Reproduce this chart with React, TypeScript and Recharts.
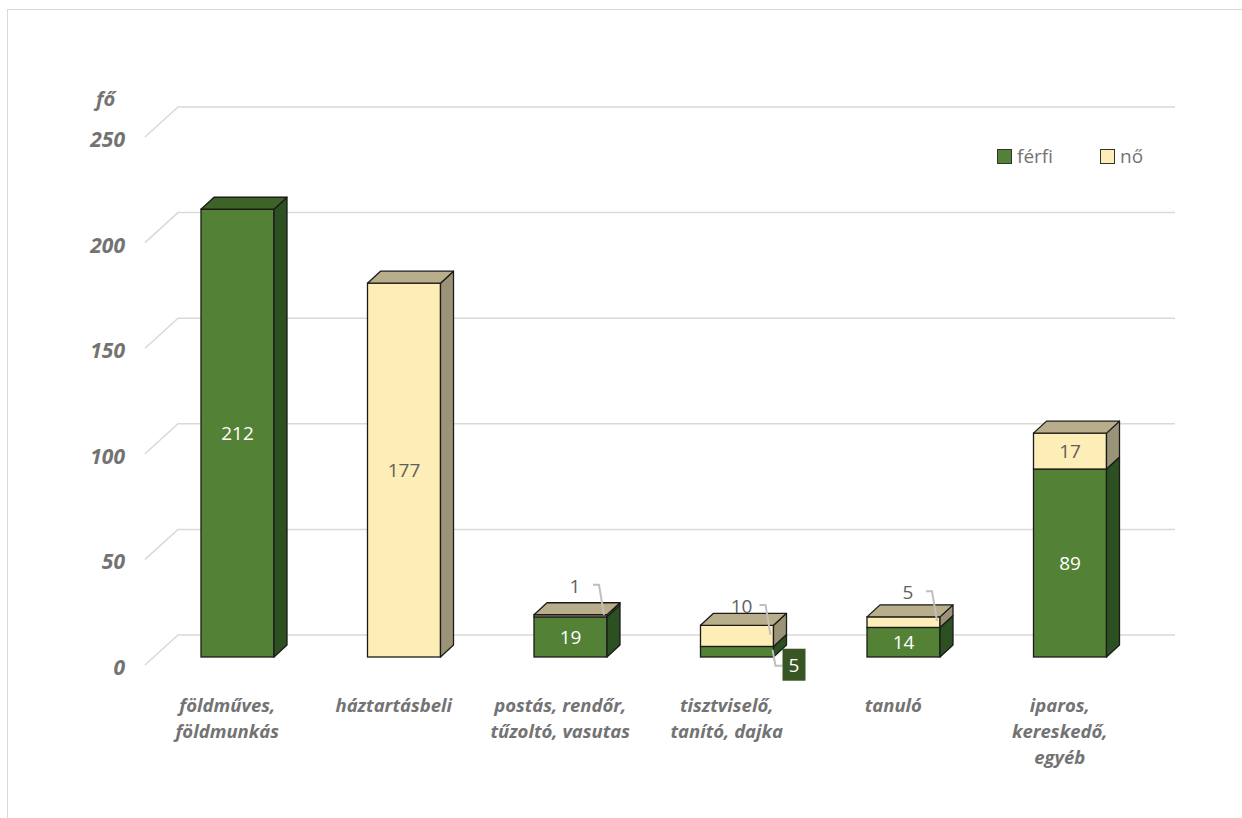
import React from "react";
import { Bar, BarChart, CartesianGrid, LabelList, XAxis, YAxis } from "recharts";

const categories = [
  "földműves, földmunkás",
  "háztartásbeli",
  "postás, rendőr, tűzoltó, vasutas",
  "tisztviselő, tanító, dajka",
  "tanuló",
  "iparos, kereskedő, egyéb",
];
const categoryLines = [
  ["földműves,", "földmunkás"],
  ["háztartásbeli"],
  ["postás, rendőr,", "tűzoltó, vasutas"],
  ["tisztviselő,", "tanító, dajka"],
  ["tanuló"],
  ["iparos,", "kereskedő,", "egyéb"],
];
const ferfi = [212, 0, 19, 5, 14, 89];
const no = [0, 177, 1, 10, 5, 17];
const yTicks = [0, 50, 100, 150, 200, 250];

const data = categories.map((name, i) => ({ name, lines: categoryLines[i], ferfi: ferfi[i], no: no[i] }));

const FONT = "'Open Sans', 'Noto Sans', sans-serif";
const AXIS_GREY = "#737373";
const LABEL_GREY = "#5f5f5f";
const DX = 13; // 3d depth offset
const DY = 12;

const GREEN = { front: "#538135", top: "#3e6329", side: "#2d5022" };
const CREAM = { front: "#fdedb6", top: "#b8ae8b", side: "#9b9377" };

function makeShape(colors: typeof GREEN, isTop: (p: any) => boolean) {
  return (props: any) => {
    const { x, y, width: w, height: h, payload } = props;
    if (!h || h <= 0) return <g />;
    const stroke = "#1b1b1b";
    return (
      <g>
        <rect x={x} y={y} width={w} height={h} fill={colors.front} stroke={stroke} strokeWidth={1.3} />
        <path
          d={`M${x + w},${y} L${x + w + DX},${y - DY} L${x + w + DX},${y + h - DY} L${x + w},${y + h} Z`}
          fill={colors.side}
          stroke={stroke}
          strokeWidth={1.3}
          strokeLinejoin="round"
        />
        {isTop(payload) && (
          <path
            d={`M${x},${y} L${x + DX},${y - DY} L${x + w + DX},${y - DY} L${x + w},${y} Z`}
            fill={colors.top}
            stroke={stroke}
            strokeWidth={1.3}
            strokeLinejoin="round"
          />
        )}
      </g>
    );
  };
}

const ferfiShape = makeShape(GREEN, (p) => !p || !p.no);
const noShape = makeShape(CREAM, () => true);

function ferfiLabel(props: any) {
  const { x, y, width: w, height: h, value } = props;
  if (!value) return null;
  if (h >= 24) {
    return (
      <text x={x + w / 2} y={y + h / 2} fill="#ffffff" fontSize={19} fontFamily={FONT} textAnchor="middle" dominantBaseline="central">
        {value}
      </text>
    );
  }
  const mid = y + h / 2;
  const r = x + w;
  return (
    <g>
      <path d={`M${r - 1},${mid - 2} L${r + 2},${mid + 14} L${r + 9},${mid + 14}`} fill="none" stroke="#bfbfbf" strokeWidth={2} />
      <rect x={r + 9} y={mid - 3} width={23} height={32} fill="#375623" />
      <text x={r + 20.5} y={mid + 13} fill="#ffffff" fontSize={19} fontFamily={FONT} textAnchor="middle" dominantBaseline="central">
        {value}
      </text>
    </g>
  );
}

function noLabel(props: any) {
  const { x, y, width: w, height: h, value } = props;
  if (!value) return null;
  if (h >= 24) {
    return (
      <text x={x + w / 2} y={y + h / 2} fill={LABEL_GREY} fontSize={19} fontFamily={FONT} textAnchor="middle" dominantBaseline="central">
        {value}
      </text>
    );
  }
  const mid = y + h / 2;
  const r = x + w;
  return (
    <g>
      <path d={`M${r - 14},${mid - 31} L${r - 8},${mid - 31} L${r - 3},${mid - 1}`} fill="none" stroke="#bfbfbf" strokeWidth={2} />
      <text x={r - 32} y={mid - 30} fill={LABEL_GREY} fontSize={19} fontFamily={FONT} textAnchor="middle" dominantBaseline="central">
        {value}
      </text>
    </g>
  );
}

function gridLine(props: any) {
  const { x1, x2, y1, key } = props;
  return (
    <path
      key={key}
      d={`M${x1 - 9},${y1 + 8} L${x1 + 24},${y1 - 22} L${x2 + 22},${y1 - 22}`}
      fill="none"
      stroke="#d9d9d9"
      strokeWidth={1.5}
    />
  );
}

function YTick(props: any) {
  const { y, payload } = props;
  return (
    <text x={125} y={y + 10} fill={AXIS_GREY} fontSize={21} fontWeight={700} fontStyle="italic" fontFamily={FONT} textAnchor="end" dominantBaseline="central">
      {payload.value}
    </text>
  );
}

function XTick(props: any) {
  const { x, y, index } = props;
  const lines = categoryLines[index] || [];
  return (
    <g>
      {lines.map((line, i) => (
        <text
          key={i}
          x={x - 10}
          y={y + 39 + i * 26}
          fill={AXIS_GREY}
          fontSize={18.5}
          fontWeight={700}
          fontStyle="italic"
          fontFamily={FONT}
          textAnchor="middle"
          dominantBaseline="central"
        >
          {line}
        </text>
      ))}
    </g>
  );
}

function ChartLegend() {
  const items = [
    { label: "férfi", color: GREEN.front, left: 0 },
    { label: "nő", color: CREAM.front, left: 103 },
  ];
  return (
    <div style={{ position: "absolute", left: 997, top: 144, width: 170, height: 24, fontFamily: FONT }}>
      {items.map((it) => (
        <div key={it.label} style={{ position: "absolute", left: it.left, top: 0, display: "flex", alignItems: "center" }}>
          <span style={{ width: 13, height: 13, background: it.color, border: "1px solid #333", display: "inline-block" }} />
          <span style={{ marginLeft: 5, fontSize: 19, color: AXIS_GREY, lineHeight: "24px" }}>{it.label}</span>
        </div>
      ))}
    </div>
  );
}

export default function App() {
  return (
    <div style={{ position: "absolute", left: 0, top: 0, width: 1242, height: 818, background: "#fff", overflow: "hidden" }}>
      <div
        style={{
          position: "absolute",
          left: 7,
          top: 9,
          width: 1240,
          height: 815,
          borderLeft: "1.5px solid #d9d9d9",
          borderTop: "1.5px solid #d9d9d9",
        }}
      />
      <div
        style={{
          position: "absolute",
          left: 96,
          top: 85,
          fontFamily: FONT,
          fontSize: 20,
          fontWeight: 700,
          fontStyle: "italic",
          color: AXIS_GREY,
        }}
      >
        fő
      </div>
      <div style={{ position: "absolute", left: 0, top: 0 }}>
        <BarChart
          width={1242}
          height={818}
          data={data}
          margin={{ top: 129, right: 89, left: 0, bottom: 0 }}
          barSize={73}
        >
          <CartesianGrid vertical={false} horizontal={gridLine} />
          <XAxis dataKey="name" height={161} axisLine={false} tickLine={false} tick={<XTick />} interval={0} />
          <YAxis
            width={154}
            domain={[0, 250]}
            ticks={yTicks}
            axisLine={false}
            tickLine={false}
            tick={<YTick />}
            interval={0}
          />
          <Bar dataKey="ferfi" stackId="a" shape={ferfiShape} isAnimationActive={false}>
            <LabelList dataKey="ferfi" content={ferfiLabel} />
          </Bar>
          <Bar dataKey="no" stackId="a" shape={noShape} isAnimationActive={false}>
            <LabelList dataKey="no" content={noLabel} />
          </Bar>
        </BarChart>
      </div>
      <ChartLegend />
    </div>
  );
}
